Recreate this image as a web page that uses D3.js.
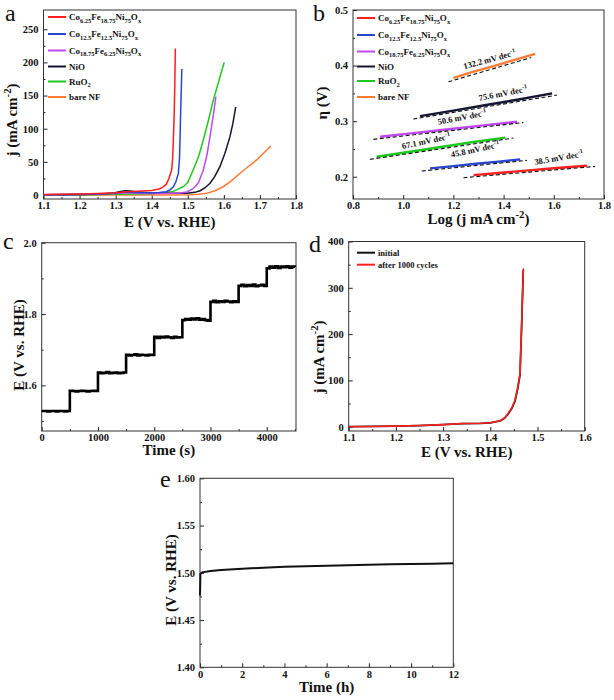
<!DOCTYPE html>
<html><head><meta charset="utf-8">
<script src="https://cdn.jsdelivr.net/npm/d3@7"></script>
<style>
body{margin:0;background:#fff}
svg{display:block}
text{font-family:"Liberation Serif","Times New Roman",serif;font-weight:bold;fill:#111}
text.letter{font-weight:normal}
</style>
</head><body>
<svg id="c" width="614" height="700"></svg>
<script>
// ---------------- DATA ----------------
// Panel a: LSV curves (E in V vs RHE, j in mA cm-2)
const lsvNames = ["Co_{6.25}Fe_{18.75}Ni_{75}O_{x}","Co_{12.5}Fe_{12.5}Ni_{75}O_{x}","Co_{18.75}Fe_{6.25}Ni_{75}O_{x}","NiO","RuO_{2}","bare NF"];
const lsvColors = ["#ff1f1f","#2a45d0","#c048f0","#141433","#1ec81e","#ff7a33"];
const lsvCo625 = [[1.10,0.8],[1.15,1.0],[1.20,1.5],[1.25,2.3],[1.30,3.6],[1.33,4.8],[1.36,5.5],[1.40,6.8],[1.42,9],[1.43,11.5],[1.44,16],[1.447,24],[1.4554,38],[1.458,55],[1.46,83],[1.462,115],[1.464,165],[1.4655,221]];
const lsvCo125 = [[1.10,0.5],[1.20,0.9],[1.25,1.5],[1.30,3.0],[1.33,4.5],[1.36,3.8],[1.40,3.0],[1.42,3.8],[1.44,5],[1.45,7.5],[1.46,12.5],[1.467,20],[1.474,33],[1.477,55],[1.4785,83],[1.480,120],[1.482,160],[1.4835,190]];
const lsvCo1875 = [[1.10,0.5],[1.20,1.0],[1.30,2.2],[1.33,3.5],[1.36,2.8],[1.40,2.4],[1.45,2.5],[1.48,3],[1.497,4.5],[1.51,8],[1.52,12.5],[1.53,19],[1.543,37.8],[1.553,60],[1.5616,88],[1.57,118],[1.578,148.5]];
const lsvNiO = [[1.10,0.5],[1.20,0.8],[1.25,1.2],[1.29,2.5],[1.31,5],[1.326,6.5],[1.34,6],[1.36,4.5],[1.40,3.2],[1.45,2.6],[1.497,2.5],[1.52,4],[1.534,6.5],[1.548,11],[1.5616,17.7],[1.575,28],[1.589,42.7],[1.603,63],[1.617,88],[1.625,108],[1.633,133]];
const lsvRuO2 = [[1.10,0.3],[1.20,0.5],[1.30,1.0],[1.35,1.5],[1.40,2.3],[1.43,3.5],[1.46,5.5],[1.4876,12.5],[1.50,19],[1.515,37.8],[1.53,58],[1.543,83],[1.557,112],[1.571,143.5],[1.586,172],[1.601,200]];
const lsvNF = [[1.10,0],[1.30,0],[1.45,0],[1.506,0.3],[1.53,1.2],[1.552,2.5],[1.575,6.5],[1.598,12.5],[1.62,21],[1.645,32.8],[1.668,43],[1.691,53],[1.71,63],[1.73,74]];
const aXTicks = [1.1,1.2,1.3,1.4,1.5,1.6,1.7,1.8];
const aXMinor = [1.15,1.25,1.35,1.45,1.55,1.65,1.75];
const aYTicks = [0,50,100,150,200,250];
const aYMinor = [25,75,125,175,225];

// Panel b: Tafel plots (log j, overpotential V)
const tafelLines = [
  [[1.28,0.203],[1.39,0.2072],[1.5,0.2115],[1.61,0.2157],[1.732,0.2198]],
  [[1.107,0.215],[1.2,0.2192],[1.29,0.2233],[1.38,0.2273],[1.466,0.2312]],
  [[0.908,0.272],[1.04,0.2785],[1.18,0.2855],[1.32,0.2925],[1.453,0.299]],
  [[1.067,0.309],[1.2,0.319],[1.33,0.329],[1.46,0.339],[1.593,0.350]],
  [[0.894,0.236],[1.02,0.2445],[1.15,0.2535],[1.28,0.2625],[1.406,0.2705]],
  [[1.20,0.378],[1.28,0.389],[1.36,0.399],[1.44,0.410],[1.526,0.421]]
];
const tafelFits = [
  [[1.24,0.2005],[1.765,0.2207]],
  [[1.074,0.2125],[1.493,0.2317]],
  [[0.881,0.2695],[1.479,0.2998]],
  [[1.04,0.306],[1.612,0.349]],
  [[0.868,0.2335],[1.439,0.2718]],
  [[1.18,0.373],[1.51,0.4166]]
];
const tafelSlopes = ["38.5","45.8","50.6","75.6","67.1","132.2"];
const tafelLabelPos = [[1.622,0.229],[1.289,0.244],[1.237,0.302],[1.40,0.345],[1.094,0.259],[1.347,0.406]];
const tafelLabelAngle = [-10,-12,-11,-11,-12,-15];
const bXTicks = [0.8,1.0,1.2,1.4,1.6,1.8];
const bXMinor = [0.9,1.1,1.3,1.5,1.7];
const bYTicks = [0.2,0.3,0.4,0.5];
const bYMinor = [0.25,0.35,0.45];

// Panel c: multi-step chronopotentiometry, sampled every 50 s
const cTime = d3.range(0, 4501, 50);
const cE = [
  1.528,1.528,1.527,1.528,1.528,1.527,1.528,1.528,1.527,1.528,
  1.585,1.584,1.583,1.584,1.585,1.584,1.583,1.584,1.585,1.584,
  1.636,1.634,1.635,1.637,1.634,1.635,1.636,1.634,1.635,1.636,
  1.686,1.684,1.685,1.687,1.684,1.686,1.685,1.684,1.686,1.685,
  1.736,1.733,1.736,1.734,1.737,1.735,1.733,1.736,1.734,1.735,
  1.783,1.786,1.784,1.787,1.785,1.788,1.784,1.786,1.783,1.781,
  1.834,1.837,1.833,1.836,1.834,1.837,1.835,1.833,1.836,1.834,
  1.879,1.882,1.878,1.881,1.879,1.883,1.878,1.880,1.882,1.879,
  1.928,1.933,1.930,1.934,1.929,1.933,1.931,1.934,1.930,1.933,1.932
];
const cXTicks = [0,1000,2000,3000,4000];
const cXMinor = [500,1500,2500,3500,4500];
const cYTicks = [1.6,1.8,2.0];
const cYMinor = [1.5,1.7,1.9];

// Panel d: LSV before / after 1000 cycles
const dNames = ["initial","after 1000 cycles"];
const dColors = ["#111111","#ff2020"];
const dInitial = [[1.10,0],[1.15,0.5],[1.20,1.1],[1.25,2.3],[1.30,4.3],[1.34,6.5],[1.38,7.3],[1.40,8.3],[1.4206,12.5],[1.43,18],[1.438,27.5],[1.446,40],[1.4523,55],[1.458,82],[1.463,112],[1.4645,160],[1.4665,220],[1.4698,338]];
const dAfter = [[1.10,0],[1.15,0.5],[1.20,1.2],[1.25,2.5],[1.30,4.5],[1.34,6.8],[1.38,7.5],[1.40,8.6],[1.4206,13],[1.43,19],[1.438,29],[1.446,42],[1.4523,57.7],[1.458,85],[1.463,115],[1.4645,165],[1.4665,224],[1.470,342]];
const dXTicks = [1.1,1.2,1.3,1.4,1.5,1.6];
const dXMinor = [1.15,1.25,1.35,1.45,1.55];
const dYTicks = [0,100,200,300,400];
const dYMinor = [50,150,250,350];

// Panel e: long-term stability
const eTime = [0,0.02,0.1,0.5,1,2,3,4,5,6,7,8,9,10,11,12];
const eE = [1.476,1.499,1.5005,1.5018,1.503,1.5043,1.5054,1.5063,1.507,1.5075,1.508,1.5085,1.509,1.5093,1.5097,1.510];
const eXTicks = [0,2,4,6,8,10,12];
const eXMinor = [1,3,5,7,9,11];
const eYTicks = [1.40,1.45,1.50,1.55,1.60];
const eYMinor = [1.425,1.475,1.525,1.575];

// ---------------- DRAWING ----------------
const svg = d3.select("#c");
const TICK_FS = 10.5, TITLE_FS = 15;

function rich(sel, str, fs){
  const re = /([_^])\{([^}]*)\}|([^_^]+)/g; let m, shift = 0;
  while((m = re.exec(str))){
    if(m[3]){ sel.append("tspan").attr("dy", -shift).attr("font-size", fs).text(m[3]); shift = 0; }
    else { const s = m[1] === "_" ? fs*0.3 : -fs*0.42;
      sel.append("tspan").attr("dy", s - shift).attr("font-size", fs*0.72).text(m[2]); shift = s; }
  }
  return sel;
}

function panel(c){
  const x = d3.scaleLinear().domain(c.xDomain).range([c.left, c.right]);
  const y = d3.scaleLinear().domain(c.yDomain).range([c.bottom, c.top]);
  const g = svg.append("g");
  const style = s => { s.select(".domain").remove(); s.attr("font-family", null).attr("font-size", TICK_FS);
    s.selectAll("line").attr("stroke", "#222"); s.selectAll("text").attr("fill", "#111"); };
  g.append("g").attr("transform", `translate(0,${c.bottom})`)
    .call(d3.axisBottom(x).tickValues(c.xMinor).tickSize(-2).tickFormat("")).call(style);
  g.append("g").attr("transform", `translate(${c.left},0)`)
    .call(d3.axisLeft(y).tickValues(c.yMinor).tickSize(-2).tickFormat("")).call(style);
  g.append("g").attr("transform", `translate(0,${c.bottom})`)
    .call(d3.axisBottom(x).tickValues(c.xTicks).tickSize(-4).tickPadding(3).tickFormat(d3.format(c.xFmt))).call(style);
  g.append("g").attr("transform", `translate(${c.left},0)`)
    .call(d3.axisLeft(y).tickValues(c.yTicks).tickSize(-4).tickPadding(5).tickFormat(d3.format(c.yFmt))).call(style);
  g.append("rect").attr("x", c.left).attr("y", c.top).attr("width", c.right - c.left).attr("height", c.bottom - c.top)
    .attr("fill", "none").attr("stroke", "#333").attr("stroke-width", 1);
  // titles
  rich(g.append("text").attr("x", (c.left + c.right)/2).attr("y", c.xTitleY).attr("text-anchor", "middle"), c.xTitle, TITLE_FS);
  rich(g.append("text").attr("transform", `translate(${c.yTitleX},${c.yTitleCY}) rotate(-90)`).attr("text-anchor", "middle"), c.yTitle, TITLE_FS);
  g.append("text").attr("class", "letter").attr("x", c.letter[1]).attr("y", c.letter[2]).attr("font-size", 24).text(c.letter[0]);
  return {x, y, g};
}

function legend(g, names, colors, x0, rows, fs){
  names.forEach((n, i) => {
    g.append("line").attr("x1", x0).attr("x2", x0 + 18).attr("y1", rows[i]).attr("y2", rows[i])
      .attr("stroke", colors[i]).attr("stroke-width", 2);
    rich(g.append("text").attr("x", x0 + 21).attr("y", rows[i] + 3), n, fs);
  });
}

// ----- Panel a -----
{
  const p = panel({left:43.5, right:296, top:10, bottom:199, xDomain:[1.1,1.8], yDomain:[-6,279],
    xTicks:aXTicks, xMinor:aXMinor, yTicks:aYTicks, yMinor:aYMinor, xFmt:".1f", yFmt:"d",
    xTitle:"E (V vs. RHE)", xTitleY:227, yTitle:"j (mA cm^{-2})", yTitleX:17, yTitleCY:120, letter:["a",5,21]});
  const line = d3.line().x(d => p.x(d[0])).y(d => p.y(d[1]));
  const series = [lsvCo625, lsvCo125, lsvCo1875, lsvNiO, lsvRuO2, lsvNF];
  [5,4,3,2,1,0].forEach(i => p.g.append("path").attr("d", line(series[i])).attr("fill","none")
    .attr("stroke", lsvColors[i]).attr("stroke-width", 1.5));
  legend(p.g, lsvNames, lsvColors, 48, [17,34,50.5,66.5,81.5,97], 9);
}

// ----- Panel b -----
{
  const p = panel({left:353, right:604, top:10, bottom:199, xDomain:[0.8,1.8], yDomain:[0.16,0.5],
    xTicks:bXTicks, xMinor:bXMinor, yTicks:bYTicks, yMinor:bYMinor, xFmt:".1f", yFmt:".1f",
    xTitle:"Log (j mA cm^{-2})", xTitleY:224, yTitle:"η (V)", yTitleX:327, yTitleCY:103, letter:["b",313,21]});
  const line = d3.line().x(d => p.x(d[0])).y(d => p.y(d[1]));
  tafelLines.forEach((l, i) => {
    p.g.append("path").attr("d", line(l)).attr("fill","none").attr("stroke", lsvColors[i]).attr("stroke-width", 2.4);
    p.g.append("path").attr("d", line(tafelFits[i])).attr("fill","none").attr("stroke", "#111")
      .attr("stroke-width", 1.1).attr("stroke-dasharray", "4,2.5").attr("transform","translate(0,1.2)");
    const [lx, ly] = tafelLabelPos[i];
    rich(p.g.append("text").attr("text-anchor","middle")
      .attr("transform", `translate(${p.x(lx)},${p.y(ly)}) rotate(${tafelLabelAngle[i]})`),
      tafelSlopes[i] + " mV dec^{-1}", 8.5);
  });
  legend(p.g, lsvNames, lsvColors, 357, [18,35,51.5,66.5,81,97], 9);
}

// ----- Panel c -----
{
  const p = panel({left:41.7, right:296, top:242.7, bottom:431, xDomain:[0,4520], yDomain:[1.472,2.0],
    xTicks:cXTicks, xMinor:cXMinor, yTicks:cYTicks, yMinor:cYMinor, xFmt:"d", yFmt:".1f",
    xTitle:"Time (s)", xTitleY:455, yTitle:"E (V vs. RHE)", yTitleX:24, yTitleCY:345, letter:["c",3,249]});
  const line = d3.line().x((d,i) => p.x(cTime[i])).y(d => p.y(d)).curve(d3.curveStepAfter);
  p.g.append("path").attr("d", line(cE)).attr("fill","none").attr("stroke","#000").attr("stroke-width", 2.6);
}

// ----- Panel d -----
{
  const p = panel({left:348.7, right:584.7, top:241.5, bottom:431, xDomain:[1.1,1.6], yDomain:[-9.3,400],
    xTicks:dXTicks, xMinor:dXMinor, yTicks:dYTicks, yMinor:dYMinor, xFmt:".1f", yFmt:"d",
    xTitle:"E (V vs. RHE)", xTitleY:457, yTitle:"j (mA cm^{-2})", yTitleX:324, yTitleCY:357, letter:["d",309,252]});
  const line = d3.line().x(d => p.x(d[0])).y(d => p.y(d[1]));
  p.g.append("path").attr("d", line(dInitial)).attr("fill","none").attr("stroke", dColors[0]).attr("stroke-width", 1.8);
  p.g.append("path").attr("d", line(dAfter)).attr("fill","none").attr("stroke", dColors[1]).attr("stroke-width", 1.6);
  legend(p.g, dNames, dColors, 357, [252.7,264.7], 8.5);
}

// ----- Panel e -----
{
  const p = panel({left:200, right:453.3, top:478.3, bottom:667.3, xDomain:[0,12], yDomain:[1.40,1.60],
    xTicks:eXTicks, xMinor:eXMinor, yTicks:eYTicks, yMinor:eYMinor, xFmt:"d", yFmt:".2f",
    xTitle:"Time (h)", xTitleY:692, yTitle:"E (V vs. RHE)", yTitleX:176, yTitleCY:580, letter:["e",160,487]});
  const line = d3.line().x((d,i) => p.x(eTime[i])).y(d => p.y(d));
  p.g.append("path").attr("d", line(eE)).attr("fill","none").attr("stroke","#111").attr("stroke-width", 2);
}
</script>
</body></html>
